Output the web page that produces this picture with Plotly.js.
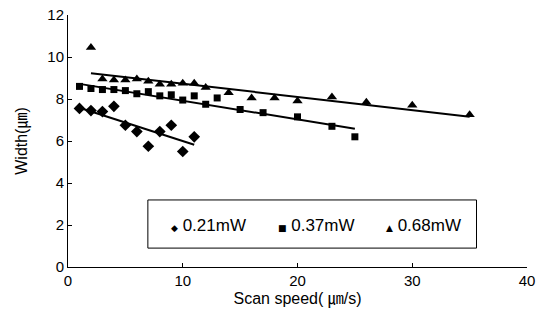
<!DOCTYPE html>
<html><head><meta charset="utf-8">
<script src="https://cdn.plot.ly/plotly-3.0.1.min.js"></script>
<style>body{margin:0;background:#fff}#c{width:549px;height:330px}</style>
</head><body><div id="c"></div>
<script>
// 0.21 mW (diamonds)
const x021 = [1,2,3,4,5,6,7,8,9,10,11];
const y021 = [7.55,7.45,7.4,7.65,6.75,6.45,5.75,6.45,6.75,5.5,6.2];
// 0.37 mW (squares)
const x037 = [1,2,3,4,5,6,7,8,9,10,11,12,13,15,17,20,23,25];
const y037 = [8.6,8.5,8.45,8.45,8.4,8.25,8.35,8.15,8.2,7.95,8.15,7.75,8.05,7.5,7.35,7.15,6.7,6.2];
// 0.68 mW (triangles)
const x068 = [2,3,4,5,6,7,8,9,10,11,12,14,16,18,20,23,26,30,35];
const y068 = [10.45,8.95,8.9,8.9,8.95,8.85,8.7,8.7,8.75,8.75,8.55,8.3,8.05,8.05,7.9,8.1,7.85,7.7,7.25];
// linear trend lines (end points)
const t021x = [1,11],  t021y = [7.58,5.82];
const t037x = [1,25],  t037y = [8.72,6.58];
const t068x = [2,35],  t068y = [9.23,7.16];
const names = ["0.21mW","0.37mW","0.68mW"];
const legendGlyphs = ["◆","■","▲"];

const font = "Arial, 'Liberation Sans', 'Noto Sans CJK KR', sans-serif";
const mk = (s, sz) => ({symbol:s, size:sz, color:"#000"});
const traces = [
  {x:x021,y:y021,mode:"markers",name:names[0],marker:mk("diamond",9)},
  {x:x037,y:y037,mode:"markers",name:names[1],marker:mk("square",7)},
  {x:x068,y:y068,mode:"markers",name:names[2],marker:mk("triangle-up",9)},
  {x:t021x,y:t021y,mode:"lines",line:{color:"#000",width:2}},
  {x:t037x,y:t037y,mode:"lines",line:{color:"#000",width:2}},
  {x:t068x,y:t068y,mode:"lines",line:{color:"#000",width:2}}
];
// legend box, drawn as in the original: small inline symbol followed by the series name
const legX = [0.220,0.453,0.688];
const annotations = names.map((n,i)=>({xref:"paper",yref:"paper",x:legX[i],y:0.164,
  xanchor:"left",yanchor:"middle",showarrow:false,
  text:'<span style="font-family:\'DejaVu Sans\';font-size:9px">'+legendGlyphs[i]+'</span> '+n,
  font:{family:font,size:17,color:"#000"}}));

const axis = {showgrid:false,zeroline:false,showline:true,linecolor:"#000",linewidth:1,
  ticks:"inside",ticklen:4,tickcolor:"#000",tickfont:{family:font,size:15,color:"#000"}};
const layout = {
  width:549,height:330,margin:{l:68,r:22,t:15,b:63},
  paper_bgcolor:"#fff",plot_bgcolor:"#fff",
  font:{family:font,color:"#000"},
  showlegend:false,
  xaxis:Object.assign({},axis,{range:[0,40],dtick:10,tick0:0,
    title:{text:"Scan speed( ㎛/s)",font:{family:font,size:16,color:"#000"},standoff:4}}),
  yaxis:Object.assign({},axis,{range:[0,12],dtick:2,tick0:0,
    title:{text:"Width(㎛)",font:{family:font,size:16,color:"#000"},standoff:15}}),
  annotations:annotations,
  shapes:[{type:"rect",xref:"paper",yref:"paper",x0:0.174,x1:0.89,y0:0.075,y1:0.266,
    line:{color:"#000",width:1},fillcolor:"#fff",layer:"below"}]
};
Plotly.newPlot("c",traces,layout,{staticPlot:true,displayModeBar:false});
</script></body></html>
